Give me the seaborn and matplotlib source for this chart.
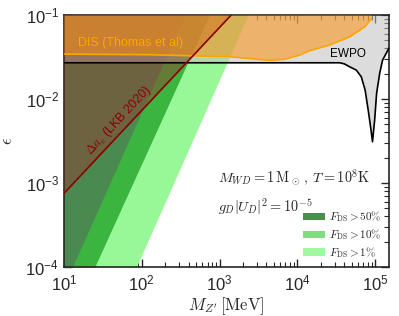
import matplotlib
matplotlib.use("Agg")
import matplotlib.pyplot as plt
from matplotlib.patches import Patch
import seaborn as sns

# EWPO bound (black curve, shaded above)
ewpo_mass = [10, 1e3, 1e4, 3.5e4, 4.0e4, 4.64e4, 5.7e4, 6.6e4, 7.4e4, 8.1e4, 8.8e4,
             9.2e4, 9.8e4, 1.04e5, 1.14e5, 1.24e5, 1.5e5]
ewpo_eps = [0.027, 0.027, 0.027, 0.027, 0.0262, 0.0243, 0.0221, 0.0184, 0.0128, 0.0074,
            0.0043, 0.0031, 0.0056, 0.0118, 0.0204, 0.0291, 0.0405]

# DIS (Thomas et al)
dis_mass = [10, 126, 1350, 2810, 4400, 6810, 1.07e4, 1.43e4, 2.57e4, 4.64e4, 7.25e4, 8.9e4]
dis_eps = [0.0343, 0.0337, 0.0319, 0.0299, 0.0290, 0.0297, 0.0334, 0.0376, 0.0439, 0.0547,
           0.072, 0.0896]

# Delta a_e (LKB 2020)
lkb_mass = [10, 1410]
lkb_eps = [7.5e-4, 0.1]

# F_DS bands (region left of each edge)
band_eps = [1e-4, 0.1]
f50_mass = [12.9, 358]
f10_mass = [24.9, 738]
f1_mass = [85.5, 2330]

sns.set_style("ticks")
plt.rcParams['mathtext.fontset'] = 'cm'
plt.rcParams['font.family'] = ['Liberation Sans', 'DejaVu Sans']

fig = plt.figure(figsize=(3.99, 3.16), dpi=100)
ax = fig.add_axes([0.160, 0.155, 0.815, 0.7975])
ax.set_xscale('log')
ax.set_yscale('log')

# green bands (nested)
ax.fill_betweenx(band_eps, 1, f1_mass, color='#98f898', lw=0, zorder=1)
ax.fill_betweenx(band_eps, 1, f10_mass, color='#3cb440', lw=0, zorder=1.1)
ax.fill_betweenx(band_eps, 1, f50_mass, color='#4a8a50', lw=0, zorder=1.2)

# EWPO
ax.fill_between(ewpo_mass, ewpo_eps, 0.1, color='#c0c0c0', alpha=0.54, lw=0, zorder=2)
# Delta a_e
ax.fill_between(lkb_mass, lkb_eps, 0.1, color='#a52a2a', alpha=0.4, lw=0, zorder=3)
# DIS
ax.fill_between(dis_mass, dis_eps, 0.1, color='#ff8c00', alpha=0.5, lw=0, zorder=4)

sns.lineplot(x=ewpo_mass, y=ewpo_eps, color='black', lw=1.2, sort=False, ax=ax, zorder=5)
sns.lineplot(x=dis_mass, y=dis_eps, color='#ffa500', lw=1.2, sort=False, ax=ax, zorder=5)
sns.lineplot(x=lkb_mass, y=lkb_eps, color='#8b0000', lw=1.2, sort=False, ax=ax, zorder=5)

ax.set_xlim(10, 1.5e5)
ax.set_ylim(1e-4, 1e-1)

ax.text(72, 0.0464, 'DIS (Thomas et al)', color='#ffa500', fontsize=9,
        ha='center', va='center', zorder=6)
ax.text(4.4e4, 0.0343, 'EWPO', color='black', fontsize=8.5, ha='center', va='center', zorder=6)
ax.text(51, 5.5e-3, r'$\Delta a_e$ (LKB 2020)', color='#8b0000', fontsize=9,
        rotation=47, ha='center', va='center', zorder=6)
ax.text(0.474, 0.353, r'$M_{WD} = 1\,{\rm M}_\odot\,,\,T = 10^8{\rm K}$', transform=ax.transAxes,
        fontsize=10.3, ha='left', va='center', zorder=6)
ax.text(0.474, 0.238, r'$g_D|U_D|^2 = 10^{-5}$', transform=ax.transAxes,
        fontsize=10.3, ha='left', va='center', zorder=6)

handles = [Patch(color='#4a8f4a', lw=0), Patch(color='#80dc80', lw=0), Patch(color='#a0f8a0', lw=0)]
labels = [r'$F_{\rm DS} > 50\%$', r'$F_{\rm DS} > 10\%$', r'$F_{\rm DS} > 1\%$']
leg = ax.legend(handles, labels, loc='lower right', frameon=False, fontsize=8,
                handlelength=2.0, handleheight=0.6, labelspacing=0.25,
                borderaxespad=0.25, handletextpad=0.4)
leg.set_zorder(7)

ax.tick_params(which='both', direction='in', top=True, right=True, labelsize=12)
ax.tick_params(which='major', length=6, width=1)
ax.tick_params(which='minor', length=3.5, width=0.8)
ax.tick_params(axis='x', pad=5)
for s in ax.spines.values():
    s.set_linewidth(1.2)

ax.set_xlabel(r"$M_{Z'}\,[{\rm MeV}]$", fontsize=12, labelpad=1)
ax.set_ylabel(r'$\epsilon$', fontsize=12)
ax.yaxis.set_label_coords(-0.15, 0.5)

fig.savefig('out.png', dpi=100)
